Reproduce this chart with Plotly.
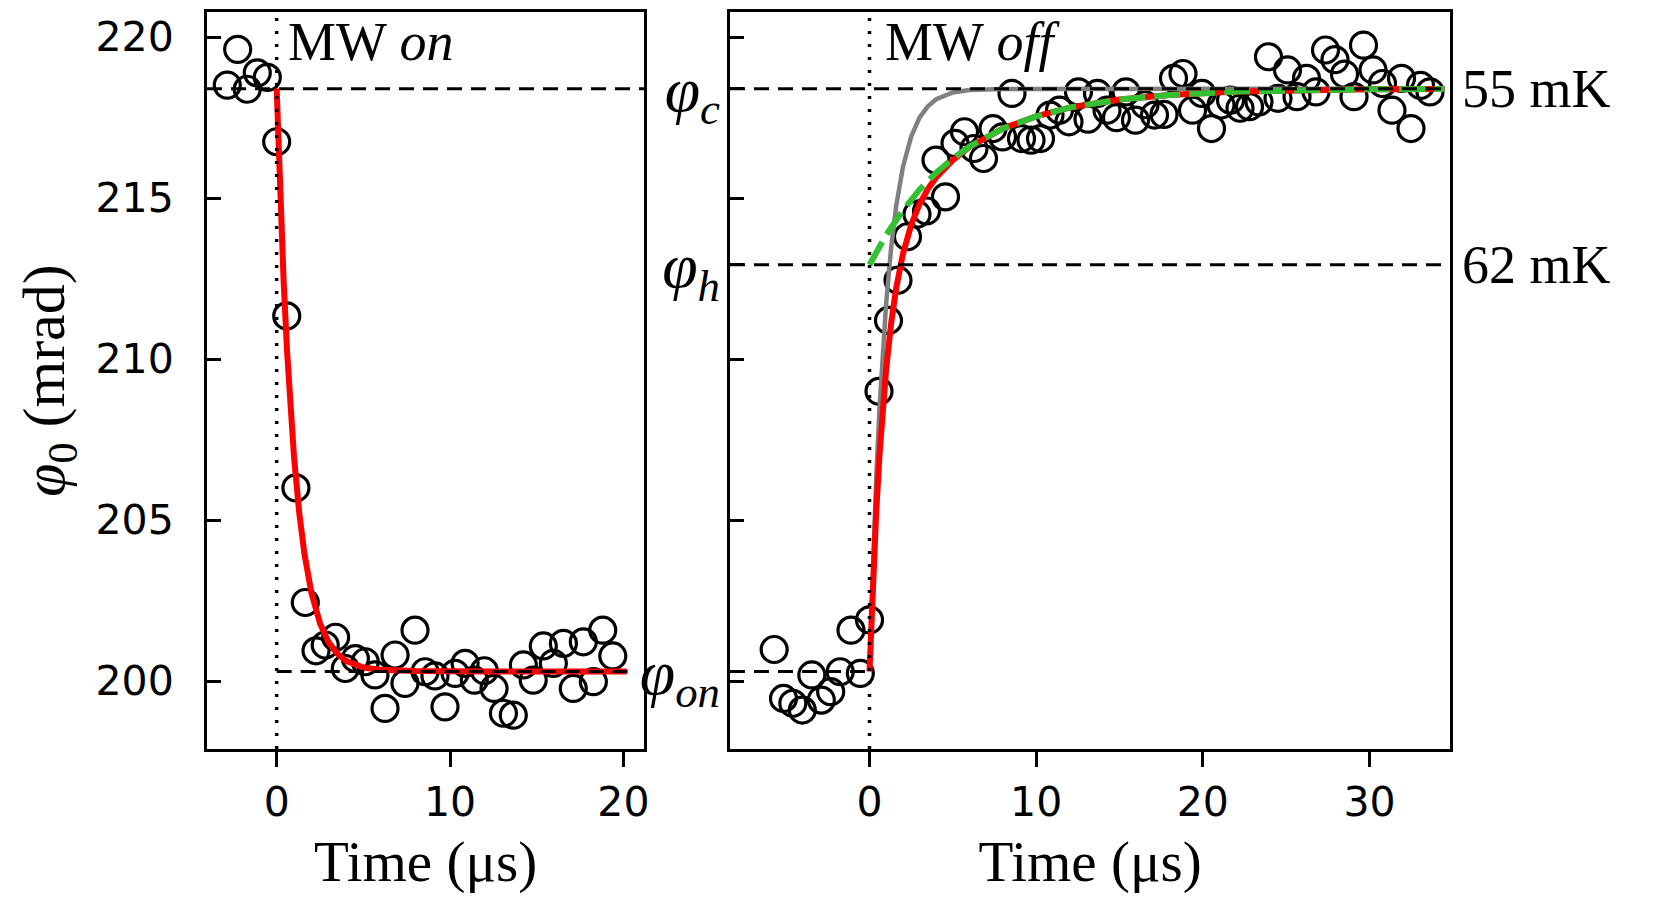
import plotly.graph_objects as go
from plotly.subplots import make_subplots

# ---- MW on panel: measured phase vs time ----
t_on = [-2.85, -2.25, -1.70, -1.12, -0.54, 0.00, 0.58, 1.11, 1.65, 2.27,
        2.80, 3.40, 3.96, 4.54, 5.11, 5.67, 6.25, 6.83, 7.40, 7.98,
        8.56, 9.13, 9.71, 10.29, 10.87, 11.40, 11.98, 12.54, 13.08, 13.65,
        14.23, 14.80, 15.38, 15.96, 16.54, 17.11, 17.69, 18.27, 18.81, 19.39]
phi_on = [218.51, 219.62, 218.38, 218.89, 218.75, 216.75, 211.34, 206.00, 202.44, 200.94,
          201.12, 201.36, 200.39, 200.70, 200.60, 200.19, 199.15, 200.81, 199.93, 201.58,
          200.29, 200.16, 199.20, 200.24, 200.55, 200.03, 200.32, 199.77, 199.00, 198.94,
          200.50, 200.03, 201.09, 200.55, 201.17, 199.77, 201.22, 199.98, 201.58, 200.78]

# fit curve (red)
fit_on_t = [0, 0.2, 0.4, 0.6, 0.8, 1.0, 1.3, 1.6, 2.0, 2.5, 3.0, 3.5, 4.0, 5.0, 6.0, 8.0, 12.0, 20.2]
fit_on_phi = [218.40, 215.12, 212.43, 210.23, 208.43, 206.96, 205.23, 203.95, 202.75, 201.79,
              201.20, 200.85, 200.63, 200.42, 200.35, 200.31, 200.30, 200.30]

# ---- MW off panel ----
t_off = [-5.72, -5.16, -4.60, -4.03, -3.46, -2.89, -2.33, -1.76, -1.11, -0.55,
         0.00, 0.57, 1.14, 1.71, 2.28, 2.85, 3.42, 3.99, 4.56, 5.13,
         5.70, 6.27, 6.84, 7.41, 7.98, 8.55, 9.12, 9.69, 10.26, 10.83,
         11.40, 11.97, 12.54, 13.11, 13.68, 14.25, 14.82, 15.39, 15.96, 16.53,
         17.10, 17.67, 18.24, 18.81, 19.38, 19.95, 20.52, 21.09, 21.66, 22.23,
         22.80, 23.37, 23.94, 24.51, 25.08, 25.65, 26.22, 26.79, 27.36, 27.93,
         28.50, 29.07, 29.64, 30.21, 30.78, 31.35, 31.92, 32.49, 33.06, 33.63]
phi_off = [200.98, 199.46, 199.31, 199.10, 200.19, 199.41, 199.67, 200.29, 201.58, 200.24,
           201.90, 209.00, 211.20, 212.45, 213.80, 214.50, 214.60, 216.18, 215.04, 216.70,
           217.06, 216.54, 216.23, 217.16, 216.90, 218.25, 216.85, 216.80, 216.85, 217.58,
           217.73, 217.37, 218.30, 217.45, 218.25, 217.73, 217.50, 218.30, 217.42, 217.90,
           217.58, 217.60, 218.72, 218.87, 217.73, 218.25, 217.16, 217.89, 218.04, 217.79,
           217.84, 217.99, 219.39, 218.10, 218.98, 218.15, 218.72, 218.30, 219.60, 219.30,
           218.85, 218.15, 219.75, 218.98, 218.56, 217.73, 218.72, 217.16, 218.50, 218.30]

# gray curve
gray_t = [0, 0.2, 0.4, 0.6, 0.8, 1.0, 1.3, 1.6, 2.0, 2.5, 3.0, 3.5, 4.0, 5.0, 6.0, 8.0, 34.5]
gray_phi = [200.30, 203.58, 206.27, 208.47, 210.27, 211.74, 213.47, 214.75, 215.95, 216.91,
            217.50, 217.85, 218.07, 218.28, 218.36, 218.39, 218.40]

# red fit
red_t = [0, 0.2, 0.4, 0.6, 0.8, 1.0, 1.3, 1.6, 2.0, 2.5, 3.0, 3.5, 4.0, 5.0, 6.0, 8.0,
         10.0, 12.0, 15.0, 18.0, 22.0, 26.0, 30.0, 34.5]
red_phi = [200.30, 203.02, 205.22, 207.03, 208.49, 209.69, 211.12, 212.20, 213.25, 214.17,
           214.81, 215.28, 215.64, 216.18, 216.59, 217.16, 217.54, 217.81, 218.06, 218.20,
           218.31, 218.36, 218.38, 218.39]

# green dashed
green_t = [0, 1, 2, 3, 4, 5, 6, 8, 10, 12, 15, 18, 22, 26, 30, 34.5]
green_phi = [212.93, 213.85, 214.62, 215.26, 215.79, 216.23, 216.60, 217.16, 217.54, 217.81,
             218.06, 218.20, 218.31, 218.36, 218.38, 218.39]

phi_c = 218.40
phi_h = 212.93
phi_on_level = 200.30
on_level_span_left = [0, 20.4]
on_level_span_right = [-8.37, 0]
level_labels = ["<i>φ</i><sub><i>c</i></sub>", "<i>φ</i><sub><i>h</i></sub>",
                "<i>φ</i><sub><i>on</i></sub>"]

serif = "Liberation Serif"
sans = "DejaVu Sans"
y_range = [197.89, 220.78]

fig = make_subplots(rows=1, cols=2, shared_yaxes=True)

circle = dict(symbol="circle-open", size=26, color="black", line=dict(width=3.2, color="black"))

fig.add_trace(go.Scatter(x=t_on, y=phi_on, mode="markers", marker=circle), row=1, col=1)
fig.add_trace(go.Scatter(x=fit_on_t, y=fit_on_phi, mode="lines",
                         line=dict(color="red", width=6)), row=1, col=1)

fig.add_trace(go.Scatter(x=t_off, y=phi_off, mode="markers", marker=circle), row=1, col=2)
fig.add_trace(go.Scatter(x=gray_t, y=gray_phi, mode="lines",
                         line=dict(color="#808080", width=4.5)), row=1, col=2)
fig.add_trace(go.Scatter(x=red_t, y=red_phi, mode="lines",
                         line=dict(color="red", width=6)), row=1, col=2)
fig.add_trace(go.Scatter(x=green_t, y=green_phi, mode="lines",
                         line=dict(color="#33c033", width=6, dash="26px,9px")), row=1, col=2)

# reference lines
dash = dict(color="black", width=3, dash="15px,9px")
dot = dict(color="black", width=3.5, dash="3px,10px")
fig.add_vline(x=0, line=dot, row=1, col=1)
fig.add_vline(x=0, line=dot, row=1, col=2)
fig.add_hline(y=phi_c, line=dash, row=1, col=1)
fig.add_hline(y=phi_c, line=dash, row=1, col=2)
fig.add_hline(y=phi_h, line=dash, row=1, col=2)
fig.add_shape(type="line", xref="x", yref="y", x0=on_level_span_left[0], x1=on_level_span_left[1],
              y0=phi_on_level, y1=phi_on_level, line=dash)
fig.add_shape(type="line", xref="x2", yref="y2", x0=on_level_span_right[0], x1=on_level_span_right[1],
              y0=phi_on_level, y1=phi_on_level, line=dash)

axis_common = dict(showline=True, mirror=True, linecolor="black", linewidth=3,
                   showgrid=False, zeroline=False, tickcolor="black", tickwidth=3,
                   automargin=False)

# the page body adds an 8px offset, so the figure is drawn 8px smaller
W, H = 1651, 899
fig.update_xaxes(**axis_common, ticks="outside", ticklen=15,
                 tickfont=dict(family=sans, size=41, color="black"), ticklabelstandoff=0,
                 title=dict(text="Time (μs)", font=dict(family=serif, size=57, color="black"),
                            standoff=16))
fig.update_xaxes(domain=[199 / W, 636 / W], range=[-4.02, 21.19], tickvals=[0, 10, 20], row=1, col=1)
fig.update_xaxes(domain=[722 / W, 1442 / W], range=[-8.37, 34.83], tickvals=[0, 10, 20, 30], row=1, col=2)

ydom = [(H - 741) / H, (H - 4) / H]
fig.update_yaxes(**axis_common, ticks="inside", ticklen=14, range=y_range, domain=ydom)
fig.update_yaxes(tickvals=[200, 205, 210, 215, 220],
                 tickfont=dict(family=sans, size=41, color="black"), ticklabelstandoff=22,
                 title=dict(text="<i>φ</i><sub>0</sub> (mrad)",
                            font=dict(family=serif, size=60, color="black"), standoff=12),
                 row=1, col=1)
fig.update_yaxes(tickvals=[200, 205, 210, 215, 220], showticklabels=False, row=1, col=2)

# labelled level ticks on the left side of the right panel
fig.add_trace(go.Scatter(x=[None], y=[None], xaxis="x2", yaxis="y3", showlegend=False))
fig.update_layout(yaxis3=dict(overlaying="y2", anchor="x2", side="left", matches="y",
                              range=y_range, domain=ydom, showgrid=False, zeroline=False,
                              showline=False, ticks="inside", ticklen=14, tickwidth=3,
                              tickcolor="black", automargin=False,
                              tickvals=[phi_c, phi_h, phi_on_level], ticktext=level_labels,
                              tickfont=dict(family=serif, size=64, color="black"),
                              ticklabelstandoff=9))

text_font = dict(family=serif, size=54, color="black")
fig.add_annotation(x=0.55, y=219.85, xref="x", yref="y", text="MW <i>on</i>",
                   showarrow=False, xanchor="left", yanchor="middle", font=text_font)
fig.add_annotation(x=0.8, y=219.85, xref="x2", yref="y2", text="MW <i>off</i>",
                   showarrow=False, xanchor="left", yanchor="middle", font=text_font)
fig.add_annotation(x=1, y=phi_c, xref="x2 domain", yref="y2", text="55 mK",
                   showarrow=False, xanchor="left", yanchor="middle", xshift=10, font=text_font)
fig.add_annotation(x=1, y=phi_h, xref="x2 domain", yref="y2", text="62 mK",
                   showarrow=False, xanchor="left", yanchor="middle", xshift=10, font=text_font)

fig.update_layout(
    width=W, height=H,
    margin=dict(l=0, r=0, t=0, b=0),
    template="none",
    plot_bgcolor="white", paper_bgcolor="white",
    showlegend=False,
)

fig.write_html("out.html")
